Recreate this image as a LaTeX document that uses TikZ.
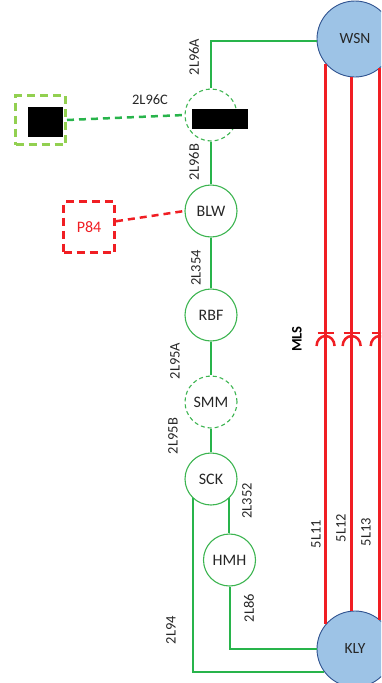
\documentclass[tikz,border=0pt]{standalone}
\usepackage{fontspec}
\setmainfont{Carlito}
\usepackage{tikz}
\usetikzlibrary{calc}
\definecolor{lnGreen}{RGB}{40,180,75}
\definecolor{stnGreen}{RGB}{60,180,80}
\definecolor{boxGreen}{RGB}{146,208,80}
\definecolor{busRed}{RGB}{240,30,35}
\definecolor{hubBlue}{RGB}{157,195,230}
\definecolor{hubEdge}{RGB}{47,82,143}
\definecolor{txtGray}{RGB}{38,38,38}

\begin{document}
\begin{tikzpicture}[x=1pt,y=1pt,
        stn/.style={circle, draw=stnGreen, line width=1.1pt, minimum size=52pt, inner sep=0pt, font=\fontsize{16}{18}\selectfont, text=txtGray},
        stnx/.style={stn, dash pattern=on 4pt off 3pt},
        hub/.style={circle, draw=hubEdge, fill=hubBlue, line width=0.9pt, minimum size=76pt, inner sep=0pt, font=\fontsize{15.5}{17}\selectfont, text=txtGray},
        lbl/.style={font=\fontsize{14.5}{16}\selectfont, text=txtGray, inner sep=1pt},
        vlbl/.style={lbl, rotate=90},
        feed/.style={draw=lnGreen, line width=2pt},
        bus/.style={draw=busRed, line width=3pt},
        brk/.style={draw=busRed, line width=2.5pt}
        ]
    \useasboundingbox (0,0) rectangle (381,-683);
    \clip (0,0) rectangle (381,-683);

    % stations
    \node[hub] (wsn) at (355,-39) {WSN};
    \node[hub] (kly) at (355,-649) {KLY};
    \node[stnx] (hid) at (211,-115) {};
    \node[stn] (blw) at (211,-211) {BLW};
    \node[stn] (rbf) at (211,-315) {RBF};
    \node[stnx] (smm) at (211,-402) {SMM};
    \node[stn] (sck) at (211,-479) {SCK};
    \node[stn] (hmh) at (229.5,-560) {HMH};
    \node[fill=black, minimum width=56pt, minimum height=20pt, inner sep=0pt] (hidtag) at (220,-119) {};

    % outside boxes
    \node[draw=boxGreen, line width=3pt, dash pattern=on 8pt off 5pt, minimum width=50pt, minimum height=49pt, inner sep=0pt] (spare) at (40.5,-120) {};
    \node[fill=black, minimum width=35pt, minimum height=30pt, inner sep=0pt] (sparetag) at (45.5,-122) {};
    \node[draw=busRed, text=busRed, line width=3pt, dash pattern=on 8pt off 5pt, minimum size=51pt, inner sep=0pt, font=\fontsize{16}{18}\selectfont] (p84) at (89,-227) {P84};

    % 2L circuits
    \draw[feed] (wsn.183) -| (hid.north);
    \draw[feed] (hid.south) -- (blw.north);
    \draw[feed] (blw.south) -- (rbf.north);
    \draw[feed] (rbf.south) -- (smm.north);
    \draw[feed] (smm.south) -- (sck.north);
    \draw[feed] (sck.-47) -- (sck.-47 |- hmh.north);
    \draw[feed] (hmh.south) |- (kly.west);
    \draw[feed] (sck.226) |- (kly.217);
    \draw[feed, line width=2.5pt, dash pattern=on 7pt off 5pt] (spare.east) -- (hid.west);
    \draw[draw=busRed, line width=2.5pt, dash pattern=on 7pt off 5pt] (p84.12) -- (blw.west);

    % 5L circuits
    \foreach \a/\b in {220/140, 265/95, -50/50} {
        \draw[bus] (wsn.\a) -- (wsn.\a |- kly.\b);
        \coordinate (cb) at (wsn.\a |- 0,-333);
        \draw[brk] ($(cb)+(-8,0)$) -- ++(16,0);
        \draw[brk] ($(cb)+(-9,-13)$) arc[start angle=180, end angle=0, x radius=9, y radius=10];
    }

    % labels
    \node[vlbl] (l96a) at (194,-57) {2L96A};
    \node[lbl] (l96c) at (150,-100) {2L96C};
    \node[vlbl] (l96b) at (194,-162) {2L96B};
    \node[vlbl] (l354) at (196,-268) {2L354};
    \node[vlbl] (l95a) at (175,-361) {2L95A};
    \node[vlbl] (l95b) at (173,-436) {2L95B};
    \node[vlbl] (l352) at (247,-501) {2L352};
    \node[vlbl] (l86) at (249,-608) {2L86};
    \node[vlbl] (l94) at (171,-630) {2L94};
    \node[vlbl] (l511) at (316,-534) {5L11};
    \node[vlbl] (l512) at (341,-528) {5L12};
    \node[vlbl] (l513) at (366,-532) {5L13};
    \node[vlbl, font=\fontsize{14.5}{16}\selectfont\bfseries, text=black] (mls) at (297,-339) {MLS};
\end{tikzpicture}
\end{document}
